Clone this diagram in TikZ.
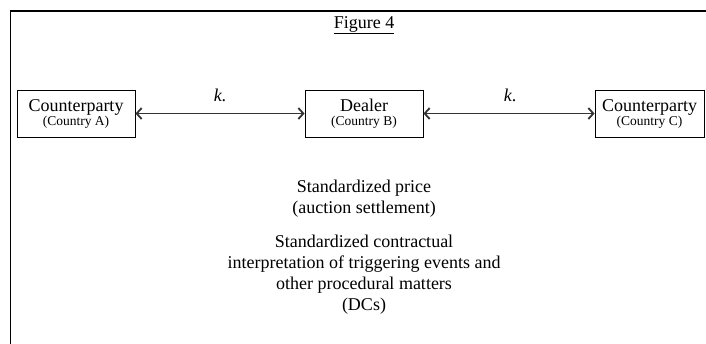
\documentclass[tikz,border=0pt]{standalone}
\usepackage{fontspec}
\setmainfont{Liberation Serif}
\usepackage{tikz}
\usetikzlibrary{arrows.meta}

\newcommand{\smalltxt}[1]{{\fontsize{13.5}{14}\selectfont #1}}

\begin{document}
\begin{tikzpicture}[x=1pt, y=-1pt,
  party/.style={draw, line width=0.9pt, minimum height=47pt, inner sep=0pt, align=center, font=\fontsize{18}{14}\selectfont},
  link/.style={line width=1.7pt, draw=black!80, {Straight Barb[length=5pt,width=11pt,line width=1.8pt]}-{Straight Barb[length=5pt,width=11pt,line width=1.8pt]}},
  txt/.style={align=center, font=\fontsize{18}{21}\selectfont}]

\useasboundingbox (0, 0) rectangle (706, 343);

\draw[line width=1.3pt] (10.5, 350) -- (10.5, 11) -- (710, 11);

\node (title) at (364, 25) {\fontsize{18}{21}\selectfont\underline{Figure 4}};

\node[party, minimum width=118pt] (cpA) at (76, 113.5) {Counterparty\\\smalltxt{(Country A)}};
\node[party, minimum width=118pt] (dealer) at (364, 113.5) {Dealer\\\smalltxt{(Country B)}};
\node[party, minimum width=109pt] (cpC) at (649.5, 113.5) {Counterparty\\\smalltxt{(Country C)}};

\draw[link] (cpA) -- (dealer);
\draw[link] (dealer) -- (cpC);

\node[txt] (kA) at (220, 95) {\textit{k}.};
\node[txt] (kC) at (510, 95) {\textit{k}.};

\node[txt] (price) at (364, 198.5) {Standardized price\\(auction settlement)};
\node[txt] (dcs) at (364, 275) {Standardized contractual\\interpretation of triggering events and\\other procedural matters\\(DCs)};

\end{tikzpicture}
\end{document}
